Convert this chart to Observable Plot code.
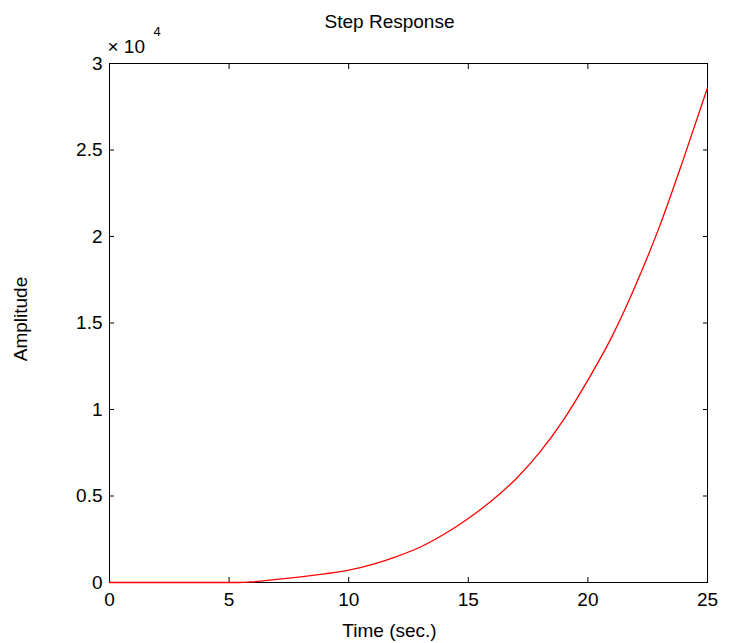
<!DOCTYPE html>
<html>
<head>
<meta charset="utf-8">
<script src="https://cdn.jsdelivr.net/npm/d3@7"></script>
<script src="https://cdn.jsdelivr.net/npm/@observablehq/plot@0.6"></script>
<style>
  html, body { margin: 0; padding: 0; background: #fff; }
  #chart svg { display: block; }
</style>
</head>
<body>
<div id="chart"></div>
<script>
const title = "Step Response";
const xLabel = "Time (sec.)";
const yLabel = "Amplitude";
const exponentLabel = "× 10";
const exponent = "4";

const xTicks = [0, 5, 10, 15, 20, 25];
const yTicks = [0, 5000, 10000, 15000, 20000, 25000, 30000];

const time = [0, 5.4, 6, 7, 8, 9, 10, 11, 12, 13, 14, 15, 16, 17, 18, 19, 20, 21, 22, 23, 24, 25];
const amplitude = [0, 0, 40, 180, 330, 500, 710, 1050, 1500, 2050, 2800, 3700, 4750, 6000, 7550, 9450, 11700, 14200, 17200, 20600, 24500, 28600];

const data = time.map((t, i) => ({t, a: amplitude[i]}));

const font = "Liberation Sans, Arial, Helvetica, sans-serif";

const chart = Plot.plot({
  width: 732,
  height: 643,
  marginLeft: 109,
  marginRight: 25,
  marginTop: 63,
  marginBottom: 61,
  style: {fontFamily: font, fontSize: "19px", color: "black", background: "white"},
  x: {domain: [0, 25]},
  y: {domain: [0, 30000]},
  marks: [
    Plot.frame({stroke: "black", strokeWidth: 1}),
    Plot.axisX({ticks: xTicks, tickSize: -5, tickPadding: 15, tickFormat: d => String(d), label: null, fontSize: 19}),
    Plot.axisX({anchor: "top", ticks: xTicks, tickSize: -5, tickFormat: () => "", label: null}),
    Plot.axisY({ticks: yTicks, tickSize: -5, tickPadding: 12, tickFormat: d => String(d / 10000), label: null, fontSize: 19}),
    Plot.axisY({anchor: "right", ticks: yTicks, tickSize: -5, tickFormat: () => "", label: null}),
    Plot.line(data, {x: "t", y: "a", stroke: "red", strokeWidth: 1.3, curve: "monotone-x"}),
    Plot.text([title], {frameAnchor: "top", textAnchor: "middle", lineAnchor: "middle", dx: -19, dy: -42, text: d => d, fontSize: 19, fill: "black"}),
    Plot.text([xLabel], {frameAnchor: "bottom", textAnchor: "middle", lineAnchor: "middle", dx: -19, dy: 48, text: d => d, fontSize: 19, fill: "black"}),
    Plot.text([yLabel], {frameAnchor: "left", textAnchor: "middle", lineAnchor: "middle", dx: -89, dy: -4, rotate: -90, text: d => d, fontSize: 19, fill: "black"}),
    Plot.text([exponentLabel], {frameAnchor: "top-left", textAnchor: "start", lineAnchor: "middle", dx: -2, dy: -17, text: d => d, fontSize: 19, fill: "black"}),
    Plot.text([exponent], {frameAnchor: "top-left", textAnchor: "start", lineAnchor: "middle", dx: 44, dy: -32, text: d => d, fontSize: 13, fill: "black"})
  ]
});

document.getElementById("chart").appendChild(chart);
</script>
</body>
</html>
